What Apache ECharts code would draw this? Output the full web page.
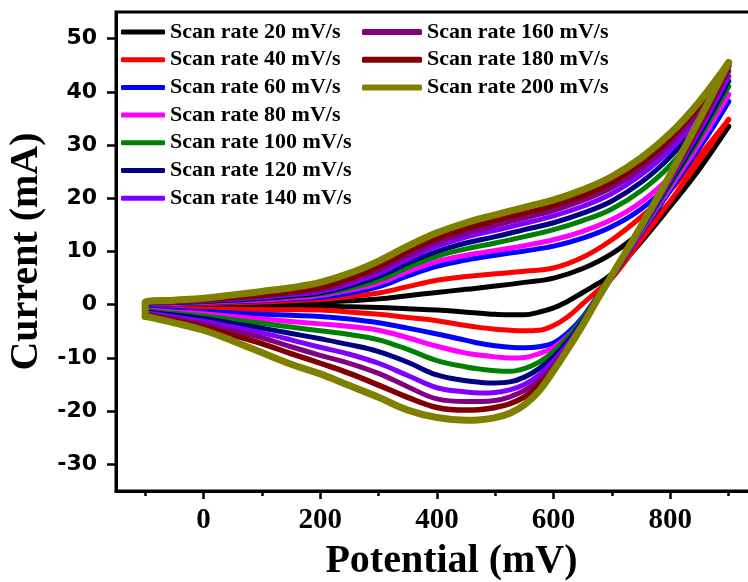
<!DOCTYPE html>
<html>
<head>
<meta charset="utf-8">
<script src="https://cdn.jsdelivr.net/npm/echarts@6/dist/echarts.min.js"></script>
<style>
html,body{margin:0;padding:0;background:#fff;}
#chart{width:748px;height:582px;}
</style>
</head>
<body>
<div id="chart"></div>
<script>
// ---- data ----
const SERIES_NAMES = [
  'Scan rate 20 mV/s', 'Scan rate 40 mV/s', 'Scan rate 60 mV/s', 'Scan rate 80 mV/s',
  'Scan rate 100 mV/s', 'Scan rate 120 mV/s', 'Scan rate 140 mV/s',
  'Scan rate 160 mV/s', 'Scan rate 180 mV/s', 'Scan rate 200 mV/s'
];
// potential (mV) of the forward (anodic) and reverse (cathodic) sweeps
const POTENTIAL_FORWARD = [-100, -50, 0, 50, 100, 150, 200, 250, 300, 350, 400, 450, 500, 550, 600, 650, 700, 750, 800, 850, 900];
const POTENTIAL_REVERSE = [900, 850, 800, 750, 700, 675, 650, 625, 600, 575, 550, 525, 500, 475, 450, 400, 350, 300, 250, 200, 150, 100, 50, 0, -50, -100];

// current (mA), forward sweep
const I_FWD_20  = [-0.2, -0.1, 0.0, 0.1, 0.2, 0.35, 0.5, 0.75, 1.1, 1.7, 2.3, 2.9, 3.5, 4.2, 5.0, 6.8, 9.6, 13.8, 19.3, 26.0, 33.5];
const I_FWD_40  = [-0.1, 0.05, 0.2, 0.35, 0.5, 0.75, 1.0, 1.5, 2.2, 3.4, 4.6, 5.3, 5.8, 6.3, 6.9, 8.9, 12.2, 16.5, 21.5, 28.0, 34.8];
const I_FWD_60  = [0.0, 0.15, 0.3, 0.55, 0.8, 1.1, 1.4, 2.2, 3.4, 5.4, 7.2, 8.4, 9.3, 10.1, 11.0, 12.5, 14.7, 18.0, 22.8, 29.6, 38.2];
const I_FWD_80  = [0.1, 0.25, 0.4, 0.65, 0.9, 1.25, 1.75, 2.7, 4.0, 6.2, 8.1, 9.3, 10.2, 11.1, 12.2, 13.8, 16.0, 19.3, 24.1, 31.0, 39.5];
const I_FWD_100 = [0.2, 0.35, 0.5, 0.8, 1.1, 1.5, 2.0, 3.1, 4.6, 7.0, 9.1, 10.5, 11.6, 12.8, 14.1, 15.8, 18.0, 21.4, 26.2, 32.9, 41.0];
const I_FWD_120 = [0.2, 0.4, 0.6, 0.9, 1.2, 1.65, 2.2, 3.5, 5.3, 7.8, 10.0, 11.6, 12.8, 14.1, 15.4, 17.2, 19.5, 23.0, 27.8, 34.3, 42.0];
const I_FWD_140 = [0.3, 0.5, 0.7, 1.05, 1.4, 1.9, 2.5, 3.9, 5.9, 8.6, 11.0, 12.7, 14.0, 15.3, 16.7, 18.5, 20.9, 24.4, 29.1, 35.4, 42.9];
const I_FWD_160 = [0.3, 0.55, 0.8, 1.2, 1.6, 2.15, 2.8, 4.4, 6.5, 9.2, 11.7, 13.5, 14.9, 16.3, 17.7, 19.6, 22.0, 25.5, 30.3, 36.5, 43.9];
const I_FWD_180 = [0.4, 0.65, 0.9, 1.35, 1.8, 2.45, 3.2, 4.9, 7.2, 10.0, 12.5, 14.3, 15.8, 17.2, 18.6, 20.5, 23.0, 26.6, 31.3, 37.5, 44.8];
const I_FWD_200 = [0.5, 0.85, 1.2, 1.85, 2.5, 3.2, 4.2, 5.9, 8.2, 11.0, 13.5, 15.4, 16.9, 18.3, 19.7, 21.6, 24.1, 27.6, 32.2, 38.2, 45.5];

// current (mA), reverse sweep
const I_REV_20  = [33.5, 25.5, 18.5, 11.8, 5.8, 3.9, 2.3, 0.7, -0.6, -1.4, -1.9, -1.9, -1.8, -1.6, -1.4, -1.0, -0.75, -0.5, -0.4, -0.3, -0.3, -0.3, -0.3, -0.35, -0.4, -0.4];
const I_REV_40  = [34.8, 27.0, 19.5, 12.2, 5.0, 2.6, 0.2, -2.2, -3.9, -4.8, -4.9, -4.8, -4.6, -4.3, -3.9, -3.0, -2.4, -1.8, -1.35, -1.0, -0.95, -0.9, -0.85, -0.8, -0.7, -0.6];
const I_REV_60  = [38.2, 29.5, 21.5, 13.4, 5.2, 1.5, -2.3, -5.2, -7.2, -7.9, -8.1, -8.0, -7.7, -7.3, -6.7, -5.5, -4.4, -3.4, -2.7, -2.2, -2.0, -1.8, -1.55, -1.3, -1.05, -0.8];
const I_REV_80  = [39.5, 30.3, 22.0, 13.7, 5.3, 1.2, -2.8, -5.8, -8.0, -9.2, -9.9, -10.0, -9.8, -9.5, -9.1, -7.8, -6.2, -4.8, -4.1, -3.6, -3.15, -2.7, -2.2, -1.7, -1.35, -1.0];
const I_REV_100 = [41.0, 31.3, 22.6, 14.0, 5.3, 1.3, -2.6, -6.0, -8.8, -10.8, -12.0, -12.5, -12.4, -12.1, -11.7, -10.5, -8.4, -6.6, -5.6, -4.9, -4.2, -3.5, -2.8, -2.1, -1.6, -1.1];
const I_REV_120 = [42.0, 32.0, 23.0, 14.2, 5.3, 1.2, -3.0, -6.8, -9.8, -12.0, -13.6, -14.5, -14.7, -14.6, -14.3, -13.2, -10.8, -8.8, -7.5, -6.4, -5.4, -4.4, -3.5, -2.6, -1.95, -1.3];
const I_REV_140 = [42.9, 32.7, 23.4, 14.3, 5.3, 1.1, -3.3, -7.3, -10.6, -13.2, -15.0, -16.0, -16.5, -16.6, -16.4, -15.6, -13.3, -11.0, -9.3, -8.0, -6.6, -5.3, -4.2, -3.1, -2.3, -1.5];
const I_REV_160 = [43.9, 33.4, 23.8, 14.5, 5.4, 1.0, -3.6, -7.8, -11.4, -14.2, -16.1, -17.3, -18.0, -18.2, -18.2, -17.7, -15.4, -12.9, -11.0, -9.5, -7.9, -6.2, -4.9, -3.6, -2.65, -1.7];
const I_REV_180 = [44.8, 34.0, 24.1, 14.6, 5.4, 0.9, -3.9, -8.3, -12.1, -15.2, -17.3, -18.6, -19.3, -19.7, -19.8, -19.3, -17.4, -15.1, -12.9, -11.0, -9.2, -7.3, -5.7, -4.2, -3.0, -1.9];
const I_REV_200 = [45.5, 34.8, 24.5, 14.8, 5.6, 1.0, -3.8, -8.2, -12.4, -16.2, -18.8, -20.4, -21.2, -21.6, -21.7, -21.2, -19.8, -17.4, -15.2, -13.0, -11.2, -9.0, -6.8, -4.8, -3.4, -2.2];

const FORWARD = [I_FWD_20, I_FWD_40, I_FWD_60, I_FWD_80, I_FWD_100, I_FWD_120, I_FWD_140, I_FWD_160, I_FWD_180, I_FWD_200];
const REVERSE = [I_REV_20, I_REV_40, I_REV_60, I_REV_80, I_REV_100, I_REV_120, I_REV_140, I_REV_160, I_REV_180, I_REV_200];

// tick labels
const X_LABELS = [0, 200, 400, 600, 800];
const X_MINOR_TICKS = [-100, 100, 300, 500, 700, 900];
const Y_LABELS = [-30, -20, -10, 0, 10, 20, 30, 40, 50];

// ---- styles ----
const COLORS = ['#000000', '#ff0000', '#0000ff', '#ff00ff', '#008000', '#000080', '#8000ff', '#800080', '#800000', '#808000'];
const WIDTHS = [5, 5, 5, 5, 5, 5, 5, 5, 5.5, 7];

const series = [];
SERIES_NAMES.forEach((name, k) => {
  const rev = REVERSE[k];
  const fwdData = [[POTENTIAL_REVERSE[POTENTIAL_REVERSE.length - 1], rev[rev.length - 1]]]
    .concat(POTENTIAL_FORWARD.map((v, i) => [v, FORWARD[k][i]]));
  const revData = POTENTIAL_REVERSE.map((v, i) => [v, rev[i]]);
  const common = {
    name: name, type: 'line', showSymbol: false, symbol: 'none', smooth: 0.4,
    color: COLORS[k],
    lineStyle: { color: COLORS[k], width: WIDTHS[k], cap: 'round', join: 'round' },
    xAxisIndex: 0, yAxisIndex: 0, z: 2 + k, animation: false
  };
  series.push(Object.assign({}, common, { data: fwdData }));
  series.push(Object.assign({}, common, { data: revData }));
});

const serif = '"Liberation Serif", "Times New Roman", serif';
const legendText = { fontFamily: serif, fontWeight: 'bold', fontSize: 22, color: '#000', lineHeight: 22 };

const chart = echarts.init(document.getElementById('chart'), null, { renderer: 'canvas' });
chart.setOption({
  backgroundColor: '#ffffff',
  animation: false,
  grid: {
    left: 116, top: 12, right: -39, bottom: 91,
    show: true, borderColor: '#000', borderWidth: 3,
    containLabel: false, outerBoundsMode: 'none'
  },
  legend: [
    {
      data: SERIES_NAMES.slice(0, 7), orient: 'vertical', left: 121, top: 21, padding: 0,
      itemWidth: 44, itemHeight: 5, itemGap: 5.7, icon: 'roundRect',
      textStyle: legendText, selectedMode: false
    },
    {
      data: SERIES_NAMES.slice(7), orient: 'vertical', left: 362, top: 21, padding: 0,
      itemWidth: 60, itemHeight: 6, itemGap: 5.7, icon: 'roundRect',
      textStyle: legendText, selectedMode: false
    }
  ],
  xAxis: [
    {
      type: 'value', min: -150, max: 1000, position: 'bottom',
      name: 'Potential (mV)', nameLocation: 'middle', nameGap: 51,
      nameTextStyle: { fontFamily: serif, fontWeight: 'bold', fontSize: 40, color: '#000' },
      axisLine: { show: true, onZero: false, lineStyle: { color: '#000', width: 3 } },
      axisTick: { show: true, customValues: X_LABELS, length: 8, inside: false, lineStyle: { color: '#000', width: 2.5 } },
      axisLabel: { show: true, customValues: X_LABELS, margin: 15, fontFamily: serif, fontWeight: 'bold', fontSize: 29, color: '#000' },
      splitLine: { show: false }
    },
    {
      type: 'value', min: -150, max: 1000, position: 'bottom',
      axisLine: { show: false, onZero: false },
      axisTick: { show: true, customValues: X_MINOR_TICKS, length: 5, inside: false, lineStyle: { color: '#000', width: 2.5 } },
      axisLabel: { show: false },
      splitLine: { show: false }
    }
  ],
  yAxis: {
    type: 'value', min: -35, max: 55,
    name: 'Current (mA)', nameLocation: 'middle', nameGap: 61,
    nameTextStyle: { fontFamily: serif, fontWeight: 'bold', fontSize: 40, color: '#000' },
    axisLine: { show: true, onZero: false, lineStyle: { color: '#000', width: 3 } },
    axisTick: { show: true, customValues: Y_LABELS, length: 9, inside: false, lineStyle: { color: '#000', width: 2.5 } },
    axisLabel: { show: true, customValues: Y_LABELS, margin: 19, fontFamily: '"DejaVu Sans", sans-serif', fontWeight: 'bold', fontSize: 22, color: '#000' },
    splitLine: { show: false }
  },
  series: series
});
</script>
</body>
</html>
